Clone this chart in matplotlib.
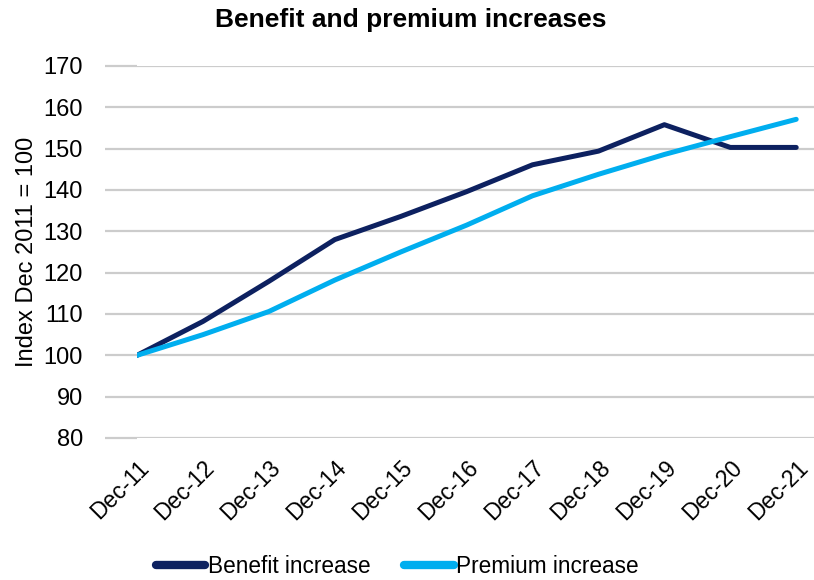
import matplotlib.pyplot as plt
import numpy as np

plt.rcParams['font.family'] = ['Liberation Sans', 'DejaVu Sans']

# index values, Dec 2011 = 100
periods = ['Dec-11', 'Dec-12', 'Dec-13', 'Dec-14', 'Dec-15', 'Dec-16',
           'Dec-17', 'Dec-18', 'Dec-19', 'Dec-20', 'Dec-21']
benefit = [100, 108.2, 117.9, 128.0, 133.6, 139.6, 146.1, 149.4, 155.8, 150.3, 150.3]
premium = [100, 105.0, 110.6, 118.2, 125.0, 131.5, 138.6, 143.8, 148.6, 152.9, 157.1]
yticks = [80, 90, 100, 110, 120, 130, 140, 150, 160, 170]

dark = '#0d2160'
light = '#00aeef'
grid_c = '#cccccc'

fig = plt.figure(figsize=(8.14, 5.8), dpi=100)
ax = fig.add_axes([137 / 814, 1 - 438 / 580, 1 - 137 / 814, (438 - 66) / 580])

x = np.arange(len(periods))
ax.plot(x, benefit, color=dark, lw=3.6, solid_capstyle='round', label='Benefit increase', zorder=3)
ax.plot(x, premium, color=light, lw=3.6, solid_capstyle='round', label='Premium increase', zorder=3)

ax.set_xlim(0, 10.27)
ax.set_ylim(80, 170)
ax.set_yticks(yticks)
ax.set_xticks(x)
ax.set_xticklabels(periods, rotation=45, ha='right', rotation_mode='anchor', fontsize=16.5)
ax.tick_params(axis='x', length=0, pad=13)
ax.tick_params(axis='y', length=23, width=1.6, color=grid_c, pad=16, labelsize=17)
ax.yaxis.grid(True, color=grid_c, lw=1.6)
ax.set_axisbelow(True)
for s in ax.spines.values():
    s.set_visible(False)

ax.set_ylabel('Index Dec 2011 = 100', fontsize=17, labelpad=4)
fig.text(0.505, 0.965, 'Benefit and premium increases', ha='center', va='center',
         fontsize=19, fontweight='bold')

fig.legend(loc='center', bbox_to_anchor=(0.488, 0.024), ncol=2, frameon=False, fontsize=16.3,
           handlelength=2.2, handletextpad=0.1, columnspacing=1.5)
for h in fig.legends[0].get_lines():
    h.set_linewidth(6)

fig.savefig('out.png', dpi=100)
